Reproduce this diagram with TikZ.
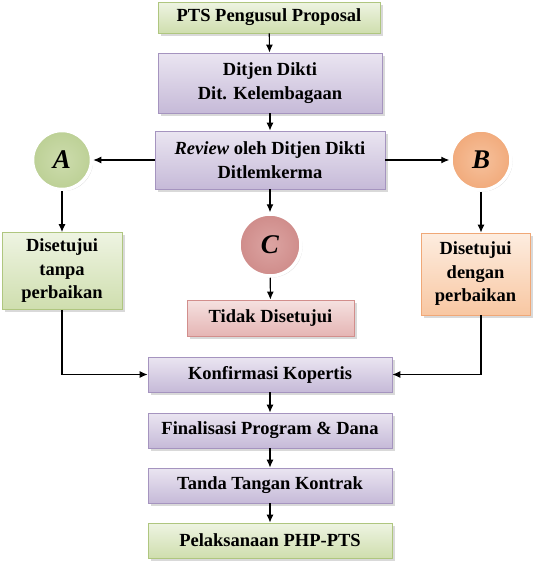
\documentclass[tikz,border=0pt]{standalone}
\usepackage{fontspec}
\setmainfont{Liberation Serif}
\usetikzlibrary{arrows.meta,shadows}
\definecolor{gLight}{HTML}{EEF4E2}
\definecolor{gDark}{HTML}{CFDEAE}
\definecolor{gLine}{HTML}{AFC67F}
\definecolor{pLight}{HTML}{EAE5F1}
\definecolor{pDark}{HTML}{C6BAD8}
\definecolor{pLine}{HTML}{A594BF}
\definecolor{oLight}{HTML}{FDEDE0}
\definecolor{oDark}{HTML}{F8C7A2}
\definecolor{oLine}{HTML}{F0A877}
\definecolor{rLight}{HTML}{F5E1E0}
\definecolor{rDark}{HTML}{E5B5B4}
\definecolor{rLine}{HTML}{D28E8C}
\definecolor{cA}{HTML}{BCD095}
\definecolor{cAin}{HTML}{CDDCAD}
\definecolor{cB}{HTML}{F1AA7B}
\definecolor{cBin}{HTML}{F6C19C}
\definecolor{cC}{HTML}{CF8C8A}
\definecolor{cCin}{HTML}{DCA4A2}
\tikzset{
  boxbase/.style={draw, line width=0.8pt, align=center, inner sep=2pt,
    drop shadow={opacity=0.3, shadow xshift=2.5pt, shadow yshift=-2.5pt}},
  gbox/.style={boxbase, draw=gLine, top color=gLight, bottom color=gDark},
  pbox/.style={boxbase, draw=pLine, top color=pLight, bottom color=pDark},
  obox/.style={boxbase, draw=oLine, top color=oLight, bottom color=oDark},
  rbox/.style={boxbase, draw=rLine, top color=rLight, bottom color=rDark},
  ball/.style={circle, draw=white, line width=3.5pt, inner sep=0pt,
    font=\fontsize{27}{29}\selectfont\bfseries\itshape,
    drop shadow={opacity=0.3, shadow xshift=1.5pt, shadow yshift=-1.5pt}},
  arr/.style={line width=1.1pt, -{Latex[length=8pt,width=7pt]}}
}
\begin{document}
\begin{tikzpicture}[x=1pt,y=-1pt, font=\fontsize{18.5}{23.5}\selectfont\bfseries]
\useasboundingbox (0,0) rectangle (545,562);
\node[gbox, minimum width=222pt, minimum height=31pt] (pts) at (269,17.5) {PTS Pengusul Proposal};
\node[pbox, minimum width=224pt, minimum height=60pt] (ditjen) at (270,83) {Ditjen Dikti\\Dit. Kelembagaan};
\node[pbox, minimum width=230pt, minimum height=58pt] (review) at (270,160) {\textit{Review} oleh Ditjen Dikti\\Ditlemkerma};
\node[ball, minimum size=59pt, inner color=cAin, outer color=cA] (A) at (62,160) {A};
\node[ball, minimum size=60pt, inner color=cBin, outer color=cB] (B) at (481,160) {B};
\node[ball, minimum size=62pt, inner color=cCin, outer color=cC] (C) at (270,245) {C};
\node[gbox, minimum width=120pt, minimum height=77pt] (tanpa) at (62,271) {Disetujui\\tanpa\\perbaikan};
\node[obox, minimum width=109pt, minimum height=82pt] (dengan) at (475.5,274) {Disetujui\\dengan\\perbaikan};
\node[rbox, minimum width=167pt, minimum height=36pt] (tidak) at (270.5,318) {Tidak Disetujui};
\node[pbox, minimum width=244pt, minimum height=35pt] (konf) at (270,374.5) {Konfirmasi Kopertis};
\node[pbox, minimum width=244pt, minimum height=35pt] (fin) at (270,430.5) {Finalisasi Program \& Dana};
\node[pbox, minimum width=244pt, minimum height=35pt] (tanda) at (270,485.5) {Tanda Tangan Kontrak};
\node[gbox, minimum width=244pt, minimum height=35pt] (pel) at (270,540.5) {Pelaksanaan PHP-PTS};
\draw[arr] (pts) -- (ditjen);
\draw[arr] (ditjen) -- (review);
\draw[arr] (review) -- (A);
\draw[arr] (review) -- (B);
\draw[arr] (review) -- (C);
\draw[arr] (C) -- (tidak);
\draw[arr] (A) -- (tanpa);
\draw[arr] (B.south) -- (B.south |- dengan.north);
\draw[arr] (tanpa.south) |- (konf.west);
\draw[arr] (dengan.south -| B) |- (konf.east);
\draw[arr] (konf) -- (fin);
\draw[arr] (fin) -- (tanda);
\draw[arr] (tanda) -- (pel);
\end{tikzpicture}
\end{document}
